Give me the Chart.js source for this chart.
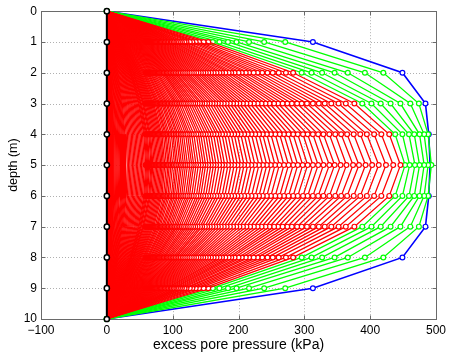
<!DOCTYPE html>
<html><head><meta charset="utf-8">
<script src="https://cdn.jsdelivr.net/npm/chart.js@4.4.1/dist/chart.umd.min.js"></script>
<style>html,body{margin:0;padding:0;background:#fff}#wrap{width:452px;height:356px}</style>
</head><body><div id="wrap"><canvas id="c" width="452" height="356"></canvas></div>
<script>
// depth (m) of each node
const depths = [0,1,2,3,4,5,6,7,8,9,10];
const xTickValues = [-100,0,100,200,300,400,500];
const xTickLabels = ['\u2212100','0','100','200','300','400','500'];
const yTickLabels = ['0','1','2','3','4','5','6','7','8','9','10'];
// Profiles are symmetric about 5 m: values given for depth 0..5 (kPa)
const initialProfile = [0,313,449,484,489,491];
const greenProfiles = [
 [0,271,420,474,488,493],
 [0,239,392,461,482,488],
 [0,216,366,446,475,482],
 [0,197,346,431,467,475],
 [0,184,327,416,459,468],
 [0,171,311,402,449,460],
 [0,161,296,388,438,453]
];
const redProfiles = [
 [0,154,283,376,429,446],[0,147,272,363,417,435],[0,140,261,352,406,424],[0,135,252,341,395,413],
 [0,130,244,331,385,403],[0,126,236,322,375,393],[0,121,229,313,365,383],[0,118,223,304,356,374],
 [0,114,216,296,347,364],[0,111,211,289,338,355],[0,108,205,281,329,346],[0,105,200,274,321,338],
 [0,102,194,267,313,329],[0,100,189,260,305,321],[0,97,185,254,298,313],[0,94.5,180,247,290,305],
 [0,92,175,241,283,297.5],[0,90,171,235,276,290],[0,87.6,166.6,229,269,283],[0,85.3,162.3,223.3,262.5,276],
 [0,83.2,158.2,217.6,255.8,269],[0,81,154.1,212,249.2,262],[0,79,150.3,206.7,243,255.5],[0,77,146.5,201.4,236.8,249],
 [0,75.1,142.9,196.6,231.1,243],[0,73.3,139.4,191.7,225.4,237],[0,71.4,135.9,186.9,219.7,231],[0,69.6,132.3,182,214,225],
 [0,67.9,129.1,177.6,208.7,219.5],[0,66.2,125.9,173.1,203.5,214],[0,64.5,122.6,168.7,198.3,208.5],[0,62.9,119.7,164.6,193.5,203.5],
 [0,61.4,116.8,160.6,188.8,198.5],[0,59.8,113.8,156.5,184,193.5],[0,58.3,110.9,152.5,179.3,188.5],[0,56.9,108.2,148.9,175,184],
 [0,55.3,105.3,144.8,170.2,179],[0,54.1,102.9,141.6,166.4,175],[0,52.7,100.3,137.9,162.1,170.5],[0,51.3,97.6,134.3,157.9,166],
 [0,50.1,95.3,131.1,154.1,162],[0,48.9,92.9,127.8,150.3,158],[0,47.6,90.6,124.6,146.5,154],[0,46.4,88.2,121.4,142.7,150],
 [0,45.3,86.2,118.5,139.3,146.5],[0,44.2,84.1,115.7,136,143],[0,43,81.8,112.5,132.2,139],[0,41.9,79.7,109.6,128.9,135.5],
 [0,40.8,77.6,106.8,125.5,132],[0,39.9,75.9,104.4,122.7,129],[0,39,74.1,101.9,119.8,126],[0,37.9,72.1,99.1,116.5,122.5],
 [0,36.9,70.3,96.7,113.6,119.5],[0,36,68.5,94.2,110.8,116.5],[0,35.1,66.8,91.8,107.9,113.5],[0,34.3,65.3,89.8,105.6,111],
 [0,33.4,63.5,87.4,102.7,108],[0,32.6,62.1,85.3,100.3,105.5],[0,31.8,60.6,83.3,98,103],[0,30.9,58.8,80.9,95.1,100],
 [0,30.1,57.3,78.9,92.7,97.5],[0,29.4,55.9,76.9,90.3,95],[0,28.8,54.7,75.2,88.4,93],[0,28,53.2,73.2,86.1,90.5],
 [0,27.2,51.8,71.2,83.7,88],[0,26.6,50.6,69.6,81.8,86],[0,26,49.4,68,79.9,84],[0,25.4,48.2,66.3,78,82],
 [0,24.7,47.1,64.7,76.1,80],[0,24.1,45.9,63.1,74.2,78],[0,23.5,44.7,61.5,72.3,76],[0,22.9,43.5,59.9,70.4,74],
 [0,22.3,42.4,58.2,68.5,72],[0,21.6,41.2,56.6,66.6,70],[0,21.2,40.3,55.4,65.1,68.5],[0,20.7,39.4,54.2,63.7,67],
 [0,20.1,38.2,52.6,61.8,65],[0,19.6,37.3,51.4,60.4,63.5],[0,19.2,36.5,50.2,59,62],[0,18.7,35.6,48.9,57.5,60.5],
 [0,18.2,34.7,47.7,56.1,59],[0,17.6,33.5,46.1,54.2,57],[0,17,32.4,44.5,52.3,55],[0,16.4,31.2,42.9,50.4,53],
 [0,15.8,30,41.3,48.5,51],[0,15.2,28.8,39.6,46.6,49],[0,14.5,27.6,38,44.7,47],[0,13.9,26.5,36.4,42.8,45],
 [0,13.3,25.3,34.8,40.9,43],[0,12.7,24.1,33.2,39,41],[0,12.1,22.9,31.6,37.1,39],[0,11.4,21.8,29.9,35.2,37],
 [0,10.8,20.6,28.3,33.3,35],[0,10.2,19.4,26.7,31.4,33],[0,9.6,18.2,25.1,29.5,31],[0,9,17.1,23.5,27.6,29],
 [0,8.5,16.2,22.2,26.2,27.5],[0,8,15.3,21,24.7,26],[0,7.6,14.4,19.8,23.3,24.5],[0,7.1,13.5,18.6,21.9,23],
 [0,6.6,12.6,17.4,20.4,21.5],[0,6.2,11.8,16.2,19,20],[0,5.7,10.9,15,17.6,18.5],[0,5.3,10,13.8,16.2,17],
 [0,4.8,9.1,12.5,14.7,15.5],[0,4.3,8.2,11.3,13.3,14],[0,3.9,7.4,10.1,11.9,12.5],[0,3.4,6.5,8.9,10.5,11],
 [0,3.1,5.9,8.1,9.5,10],[0,2.8,5.3,7.3,8.6,9],[0,2.5,4.7,6.5,7.6,8],[0,2.2,4.1,5.7,6.7,7],
 [0,1.9,3.5,4.9,5.7,6],[0,1.5,2.9,4,4.8,5],[0,1.2,2.4,3.2,3.8,4],[0,0.9,1.8,2.4,2.9,3],
 [0,0.6,1.2,1.6,1.9,2],[0,0.3,0.6,0.8,1,1]
];
const finalProfile = [0,0,0,0,0,0];

function toPoints(half){
  return depths.map((d,i)=>({x: half[i <= 5 ? i : 10 - i], y: d}));
}
// densely packed markers blend into the red lines (as in the rasterised original)
function redFill(c){
  const v = c.raw ? c.raw.x : 0;
  const t = Math.max(0, Math.min(1, (125 - v) / 65));
  const g = Math.round(255 * (1 - t));
  return 'rgb(255,' + g + ',' + g + ')';
}
function ds(half, color, lw, r, pbw, isRed){
  return {
    data: toPoints(half), showLine: true, borderColor: color, borderWidth: lw,
    pointBorderColor: color, pointBackgroundColor: isRed ? redFill : '#ffffff', pointBorderWidth: pbw,
    pointRadius: isRed ? (c => (c.raw && c.raw.x >= 58) ? r : 0) : r,
    clip: false, tension: 0
  };
}
// time order: blue, greens, reds, black; drawn so later ones are on top
const timeOrdered = [];
timeOrdered.push(ds(initialProfile,'#0000ff',1.6,2.4,1.2,false));
greenProfiles.forEach(p=>timeOrdered.push(ds(p,'#00ff00',1.3,2.4,1.2,false)));
redProfiles.forEach(p=>timeOrdered.push(ds(p,'#ff0000',1.3,2.4,1.2,true)));
timeOrdered.push(ds(finalProfile,'#000000',2,2.6,1.5,false));
const datasets = timeOrdered.slice().reverse();

const FONT = "'Liberation Sans', Arial, Helvetica, sans-serif";
const axesPlugin = {
  id:'matlabAxes',
  beforeDatasetsDraw(chart){
    const {ctx, chartArea:a, scales:{x,y}} = chart;
    ctx.save();
    ctx.strokeStyle = '#b0b0b0'; ctx.lineWidth = 1; ctx.setLineDash([1,2]);
    xTickValues.forEach(v=>{ const p = Math.round(x.getPixelForValue(v))+0.5;
      ctx.beginPath(); ctx.moveTo(p,a.top); ctx.lineTo(p,a.bottom); ctx.stroke(); });
    depths.forEach(v=>{ const p = Math.round(y.getPixelForValue(v))+0.5;
      ctx.beginPath(); ctx.moveTo(a.left,p); ctx.lineTo(a.right,p); ctx.stroke(); });
    ctx.setLineDash([]);
    ctx.strokeStyle = '#6a6a6a';
    const L=Math.round(a.left)+0.5, R=Math.round(a.right)+0.5, T=Math.round(a.top)+0.5, B=Math.round(a.bottom)+0.5;
    ctx.strokeRect(L,T,R-L,B-T);
    const tk = 4;
    xTickValues.forEach(v=>{ const p = Math.round(x.getPixelForValue(v))+0.5;
      ctx.beginPath(); ctx.moveTo(p,B); ctx.lineTo(p,B-tk); ctx.moveTo(p,T); ctx.lineTo(p,T+tk); ctx.stroke(); });
    depths.forEach(v=>{ const p = Math.round(y.getPixelForValue(v))+0.5;
      ctx.beginPath(); ctx.moveTo(L,p); ctx.lineTo(L+tk,p); ctx.moveTo(R,p); ctx.lineTo(R-tk,p); ctx.stroke(); });
    ctx.restore();
  }
};

new Chart(document.getElementById('c'), {
  type: 'scatter',
  data: { datasets },
  plugins: [axesPlugin],
  options: {
    responsive: false, animation: false, devicePixelRatio: 1, events: [],
    layout: { padding: { left: 0, right: 16, top: 7, bottom: 0 } },
    plugins: { legend: { display: false }, tooltip: { enabled: false } },
    scales: {
      x: {
        type: 'linear', min: -100, max: 500,
        afterBuildTicks: s => { s.ticks = xTickValues.map(v=>({value:v})); },
        afterFit: s => { s.height = 37; },
        grid: { display: false, drawTicks: false }, border: { display: false },
        ticks: { autoSkip: false, maxRotation: 0, padding: 4, color: '#000',
          font: { family: FONT, size: 12 },
          callback: v => xTickLabels[xTickValues.indexOf(v)] },
        title: { display: true, text: 'excess pore pressure (kPa)', color: '#000',
          font: { family: FONT, size: 14 }, padding: { top: 0, bottom: 2 } }
      },
      y: {
        type: 'linear', min: 0, max: 10, reverse: true,
        afterBuildTicks: s => { s.ticks = depths.map(v=>({value:v})); },
        afterFit: s => { s.width = 41; },
        grid: { display: false, drawTicks: false }, border: { display: false },
        ticks: { autoSkip: false, padding: 4, color: '#000',
          font: { family: FONT, size: 12 },
          callback: v => yTickLabels[depths.indexOf(v)] },
        title: { display: true, text: 'depth (m)', color: '#000',
          font: { family: FONT, size: 12.5 }, padding: { top: 6, bottom: 0 } }
      }
    }
  }
});
</script></body></html>
